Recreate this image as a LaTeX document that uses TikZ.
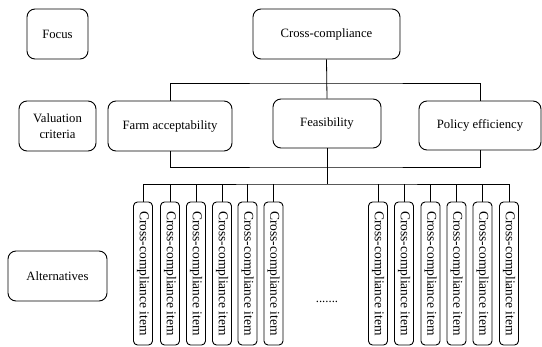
\documentclass[tikz,border=0pt]{standalone}
\usepackage{fontspec}
\setmainfont{Liberation Serif}
\newfontfamily\boxfont{Liberation Serif}
\usetikzlibrary{positioning}

\begin{document}
\begin{tikzpicture}[x=1pt,y=-1pt,
	level/.style={draw, rounded corners=8pt, line width=0.9pt, align=center, inner sep=1pt, font=\boxfont\fontsize{12.7}{16}\selectfont},
	item/.style={draw, rounded corners=4pt, line width=0.9pt, rotate=-90, inner sep=0pt, minimum width=143pt, minimum height=19pt, font=\boxfont\fontsize{13.5}{14}\selectfont},
	link/.style={line width=0.8pt}]
	\useasboundingbox (0,0) rectangle (542,347);
	\node [level, minimum width=61pt, minimum height=50pt] (focus) at (57.5,34) {Focus};
	\node [level, minimum width=77pt, minimum height=50pt] (crit) at (57.5,126) {Valuation\\criteria};
	\node [level, minimum width=99pt, minimum height=50pt] (alt) at (57.5,276) {Alternatives};
	\node [level, minimum width=147pt, minimum height=50pt] (goal) at (326.5,34) {Cross-compliance};
	\node [level, minimum width=124pt, minimum height=50pt] (farm) at (170,126) {Farm acceptability};
	\node [level, minimum width=108pt, minimum height=49pt] (feas) at (327,123.5) {Feasibility};
	\node [level, minimum width=122pt, minimum height=49pt] (policy) at (480,125.5) {Policy efficiency};
	\coordinate (upper) at (327,83);
	\coordinate (lower) at (327,167);
	\coordinate (split) at (327,184);
	\draw [link] (goal.south) -- (feas.north);
	\draw [link] (farm.north) |- (upper) -| (policy.north);
	\draw [link] (farm.south) |- (lower) -| (policy.south);
	\draw [link] (feas.south) -- (split);
	\foreach \x [count=\i] in {143,170,196,222,247.5,273.5,378,404,430.5,456.5,482.5,509}
		\node [item] (item\i) at (\x,273.5) {Cross-compliance item};
	\draw [link] (item1.west) |- (split) -| (item12.west);
	\foreach \i in {2,...,11}
		\draw [link] (item\i.west) -- (item\i.west |- split);
	\node [font=\boxfont\fontsize{12.7}{14}\selectfont] (dots) at (327,302) {.......};
\end{tikzpicture}
\end{document}
